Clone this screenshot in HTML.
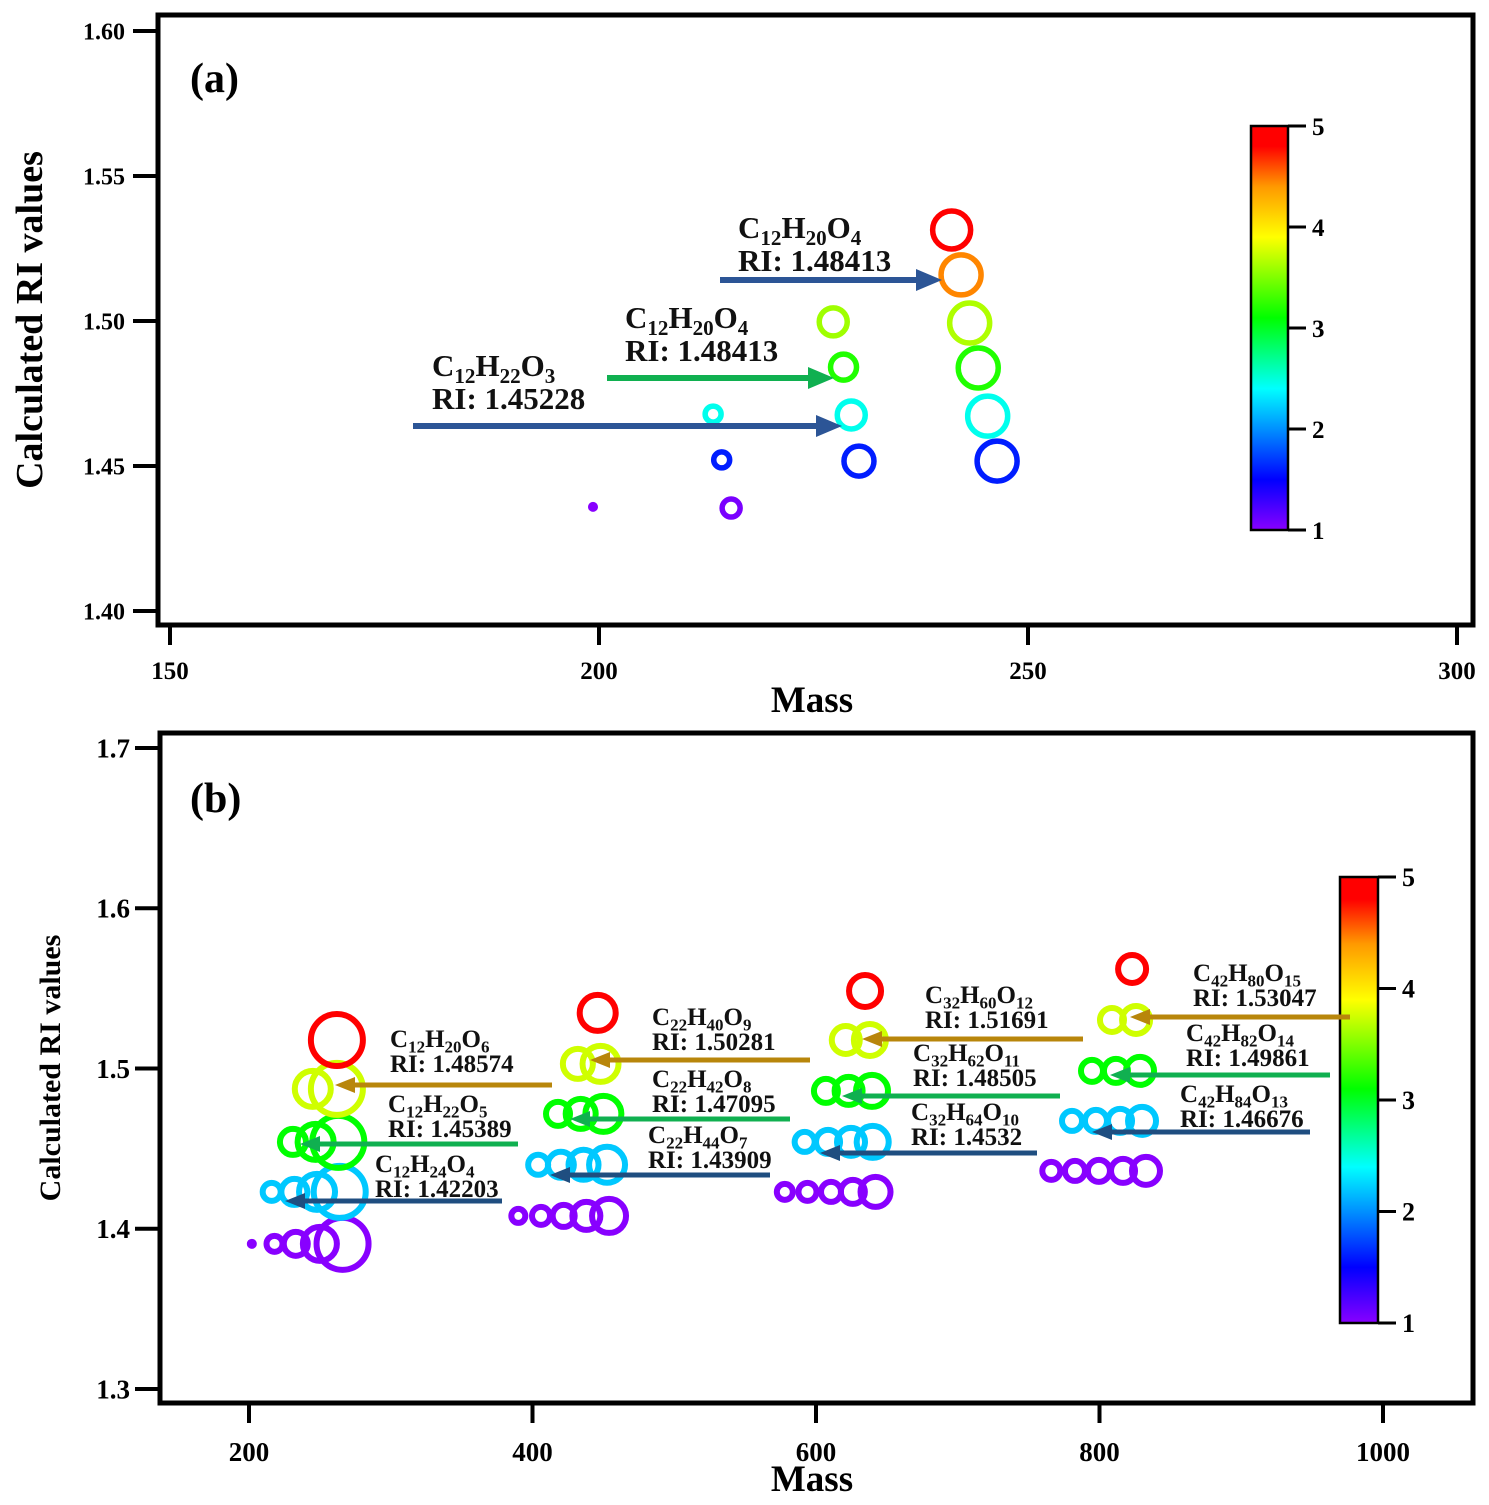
<!DOCTYPE html>
<html><head><meta charset="utf-8">
<style>
html,body{margin:0;padding:0;background:#fff;}
svg{display:block;font-family:"Liberation Serif",serif;font-weight:bold;}
</style></head>
<body>
<svg id="chart" width="1489" height="1505" viewBox="0 0 1489 1505">
<defs>
<linearGradient id="cbgrad" x1="0" y1="1" x2="0" y2="0">
<stop offset="0" stop-color="#8800ff"/>
<stop offset="0.125" stop-color="#0000ff"/>
<stop offset="0.25" stop-color="#0090ff"/>
<stop offset="0.35" stop-color="#00ffff"/>
<stop offset="0.525" stop-color="#00ff00"/>
<stop offset="0.725" stop-color="#ffff00"/>
<stop offset="0.85" stop-color="#ff9900"/>
<stop offset="0.95" stop-color="#ff0000"/>
<stop offset="1" stop-color="#ff0000"/>
</linearGradient>
</defs>
</svg>
<script>
// ---------- Panel (a) data ----------
const aMass  = [199.3, 214.3, 213.3, 215.4, 227.3, 228.5, 229.4, 230.3, 241.1, 242.2, 243.2, 244.2, 245.3, 246.4];
const aRI    = [1.4359,1.4521,1.4679,1.4355,1.4997,1.4841,1.4676,1.4517,1.5314,1.5159,1.4993,1.4838,1.4672,1.4517];
const aSize  = [0, 8, 8, 9, 14, 13, 14, 15, 19, 20, 20, 20, 20, 20];
const aColor = [1.0, 1.6, 2.45, 1.05, 3.6, 3.2, 2.45, 1.6, 4.9, 4.45, 3.65, 3.2, 2.45, 1.6];
const aYTicks = [1.40, 1.45, 1.50, 1.55, 1.60];
const aYTickLabels = ["1.40","1.45","1.50","1.55","1.60"];
const aXTicks = [150, 200, 250, 300];
const aXTickLabels = ["150","200","250","300"];

// ---------- Panel (b) data ----------
const bMass = [
 202,218,233,250,266, 216,232,248,264, 231,247,263, 245,262, 262,
 390,406,422,438,454, 404,420,436,452.6, 418,434,450, 432,448, 446,
 578,594,610.6,626,642, 592,608.5,624.7,640, 607,623,639.5, 621,638, 634.6,
 766,782.7,799.6,816.6,832.8, 780.6,797.5,814.5,830, 794.7,811.6,828.6, 808.8,825.8, 823
];
const bRI = [
 1.3906,1.3906,1.3906,1.3906,1.3906, 1.423,1.423,1.423,1.423, 1.4542,1.4542,1.4542, 1.4873,1.4873, 1.5178,
 1.408,1.408,1.408,1.408,1.408, 1.4399,1.4399,1.4399,1.4399, 1.4717,1.4717,1.4717, 1.5029,1.5029, 1.5347,
 1.423,1.423,1.423,1.423,1.423, 1.4542,1.4542,1.4542,1.4542, 1.486,1.486,1.486, 1.5178,1.5178, 1.5484,
 1.4361,1.4361,1.4361,1.4361,1.4361, 1.4673,1.4673,1.4673,1.4673, 1.4985,1.4985,1.4985, 1.5303,1.5303, 1.5621
];
const bSize = [
 0,8,12,17,26, 9,13,18,26, 13,18,26, 18,26, 26,
 7,9,11,14,17, 10,13,15,18, 12,15,18, 15,18, 18,
 8,9,10,12,15, 10,12,14,16, 12,14,16, 14,16, 16,
 9,10,11,12,14, 10,11,12,14, 11,12,14, 12,14, 14
];
const bColor = [
 1,1,1,1,1, 2.2,2.2,2.2,2.2, 3.1,3.1,3.1, 3.75,3.75, 4.9,
 1,1,1,1,1, 2.2,2.2,2.2,2.2, 3.1,3.1,3.1, 3.75,3.75, 4.9,
 1,1,1,1,1, 2.2,2.2,2.2,2.2, 3.1,3.1,3.1, 3.75,3.75, 4.9,
 1,1,1,1,1, 2.2,2.2,2.2,2.2, 3.1,3.1,3.1, 3.75,3.75, 4.9
];
const bYTicks = [1.3, 1.4, 1.5, 1.6, 1.7];
const bYTickLabels = ["1.3","1.4","1.5","1.6","1.7"];
const bXTicks = [200, 400, 600, 800, 1000];
const bXTickLabels = ["200","400","600","800","1000"];
const cbTicks = [1,2,3,4,5];
const cbTickLabels = ["1","2","3","4","5"];

const NS = "http://www.w3.org/2000/svg";
const svg = document.getElementById("chart");
function mk(tag, attrs, parent){
  const e = document.createElementNS(NS, tag);
  for (const k in attrs) e.setAttribute(k, attrs[k]);
  (parent||svg).appendChild(e);
  return e;
}
const stops = [[1,[136,0,255]],[1.5,[0,0,255]],[2,[0,144,255]],[2.4,[0,255,255]],[3.1,[0,255,0]],[3.9,[255,255,0]],[4.4,[255,153,0]],[4.8,[255,0,0]],[5,[255,0,0]]];
function cmap(v){
  for (let i=0;i<stops.length-1;i++){
    const [a,ca]=stops[i],[b,cb]=stops[i+1];
    if (v<=b){const t=Math.max(0,(v-a)/(b-a));
      return "rgb("+ca.map((c,j)=>Math.round(c+(cb[j]-c)*t)).join(",")+")";}
  }
  return "rgb(255,0,0)";
}

const axA = {x:m=>170+(m-150)*(1457-170)/150, y:r=>31+(1.60-r)*(611-31)/0.20};
const axB = {x:m=>249+(m-200)*(1383-249)/800, y:r=>748+(1.7-r)*(1389-748)/0.4};
const cbA = {x0:1251,w:37,y:v=>530-(v-1)*(530-126)/4};
const cbB = {x0:1340,w:38,y:v=>1323-(v-1)*(1323-877)/4};

function formula(parent, x, y, str, size){
  const t = mk("text",{x:x,y:y,"font-size":size,fill:"#111"},parent);
  
  
  const parts = str.match(/[A-Z][a-z]?|\d+/g);
  let prevSub = false;
  parts.forEach(p=>{
    const ts = mk("tspan",{},t);
    if (/\d/.test(p)){ ts.setAttribute("font-size", size*0.68); ts.setAttribute("dy", prevSub?0:size*0.22); prevSub=true; }
    else { ts.setAttribute("dy", prevSub ? -size*0.22 : 0); prevSub=false; }
    ts.textContent = p;
  });
  return t;
}
function ri(parent,x,y,str,size){
  const t = mk("text",{x:x,y:y,"font-size":size,fill:"#111"},parent);
  
  
  t.textContent = str;
}
function arrow(parent,x1,y,x2,color,w,hl,hw){
  const g = mk("g",{},parent);
  
  
  const dir = Math.sign(x2-x1);
  mk("line",{x1:x1,y1:y,x2:x2-dir*hl,y2:y,stroke:color,"stroke-width":w},g);
  mk("polygon",{points:`${x2},${y} ${x2-dir*hl},${y-hw} ${x2-dir*hl},${y+hw}`,fill:color},g);
}

function panel(name, box, ax, yT, yL, xT, xL, ySize, xSize, ticksLeftX, yLabX, xLabY, mass, ris, sizes, cols, sw, title, titlePos, massY, letter, letterPos, cb, cbFont){
  const g = mk("g",{});  
  const fr = mk("rect",{x:box[0],y:box[1],width:box[2]-box[0],height:box[3]-box[1],fill:"none",stroke:"#000","stroke-width":5},g);
   
  const yg = mk("g",{},g);  
  yT.forEach((v,i)=>{
    const y = ax.y(v);
    mk("line",{x1:ticksLeftX,y1:y,x2:box[0],y2:y,stroke:"#000","stroke-width":4},yg);
    const t = mk("text",{x:yLabX,y:y+ySize*0.35,"font-size":ySize,"text-anchor":"end"},yg);
     
    t.textContent = yL[i];
  });
  const xg = mk("g",{},g);  
  xT.forEach((v,i)=>{
    const x = ax.x(v);
    mk("line",{x1:x,y1:box[3],x2:x,y2:box[3]+20,stroke:"#000","stroke-width":4},xg);
    const t = mk("text",{x:x,y:xLabY,"font-size":xSize,"text-anchor":"middle"},xg);
     
    t.textContent = xL[i];
  });
  const xt = mk("text",{x:812,y:massY,"font-size":37,"text-anchor":"middle"},g);
   
  xt.textContent = "Mass";
  const yt = mk("text",{x:0,y:0,"font-size":title[1],"text-anchor":"middle",transform:`translate(${titlePos[0]},${titlePos[1]}) rotate(-90)`},g);
   
  yt.textContent = title[0];
  const lt = mk("text",{x:letterPos[0],y:letterPos[1],"font-size":42},g);
   
  lt.textContent = letter;
  const pg = mk("g",{},g);  
  mass.forEach((m,i)=>{
    const c = cmap(cols[i]);
    let el;
    if (sizes[i]===0) el = mk("circle",{cx:ax.x(m),cy:ax.y(ris[i]),r:5,fill:c},pg);
    else el = mk("circle",{cx:ax.x(m),cy:ax.y(ris[i]),r:sizes[i],fill:"none",stroke:c,"stroke-width":sw},pg);
    
    
  });
  const cg = mk("g",{},g);  
  mk("rect",{x:cb.x0,y:cb.y(5),width:cb.w,height:cb.y(1)-cb.y(5),fill:"url(#cbgrad)",stroke:"#000","stroke-width":2.5},cg);
  cbTicks.forEach((v,i)=>{
    const y = cb.y(v);
    mk("line",{x1:cb.x0+cb.w,y1:y,x2:cb.x0+cb.w+18,y2:y,stroke:"#000","stroke-width":3},cg);
    const t = mk("text",{x:cb.x0+cb.w+24,y:y+cbFont*0.35,"font-size":cbFont},cg);
     
    t.textContent = cbTickLabels[i];
  });
  return g;
}

const gA = panel("panel-a",[158,15,1473,625],axA,aYTicks,aYTickLabels,aXTicks,aXTickLabels,24,25,133,125,679,aMass,aRI,aSize,aColor,5.5,
  ["Calculated RI values",38],[42,320],712,"(a)",[190,92],cbA,25);
const gB = panel("panel-b",[160,733,1473,1403],axB,bYTicks,bYTickLabels,bXTicks,bXTickLabels,27,27,135,130,1461,bMass,bRI,bSize,bColor,6,
  ["Calculated RI values",30],[60,1068],1491,"(b)",[190,812],cbB,26);

const blueA="#2c5596", greenA="#10b050";
arrow(gA,720,280,942,blueA,6,26,11);
arrow(gA,607,378,834,greenA,6,26,11);
arrow(gA,413,426,842,blueA,6,26,11);
formula(gA,738,238,"C12H20O4",31); ri(gA,738,271,"RI: 1.48413",31);
formula(gA,625,328,"C12H20O4",31); ri(gA,625,361,"RI: 1.48413",31);
formula(gA,432,376,"C12H22O3",31); ri(gA,432,409,"RI: 1.45228",31);

const gold="#b8860b", grn="#10b050", blu="#1f4e80";
const ann = [
 [552,1085,335,gold,"C12H20O6","RI: 1.48574",390,1047],
 [518,1144,300,grn,"C12H22O5","RI: 1.45389",388,1112],
 [502,1201,285,blu,"C12H24O4","RI: 1.42203",375,1172],
 [810,1060,590,gold,"C22H40O9","RI: 1.50281",652,1025],
 [790,1119,570,grn,"C22H42O8","RI: 1.47095",652,1087],
 [770,1175,550,blu,"C22H44O7","RI: 1.43909",648,1143],
 [1083,1039,862,gold,"C32H60O12","RI: 1.51691",925,1003],
 [1060,1096,842,grn,"C32H62O11","RI: 1.48505",913,1061],
 [1037,1153,820,blu,"C32H64O10","RI: 1.4532",911,1120],
 [1350,1017,1130,gold,"C42H80O15","RI: 1.53047",1193,981],
 [1330,1075,1110,grn,"C42H82O14","RI: 1.49861",1186,1041],
 [1310,1132,1092,blu,"C42H84O13","RI: 1.46676",1180,1102]
];
ann.forEach(a=>{
  arrow(gB,a[0],a[1],a[2],a[3],5,20,8);
  formula(gB,a[6],a[7],a[4],25);
  ri(gB,a[6],a[7]+25,a[5],25);
});
</script>
</body></html>
